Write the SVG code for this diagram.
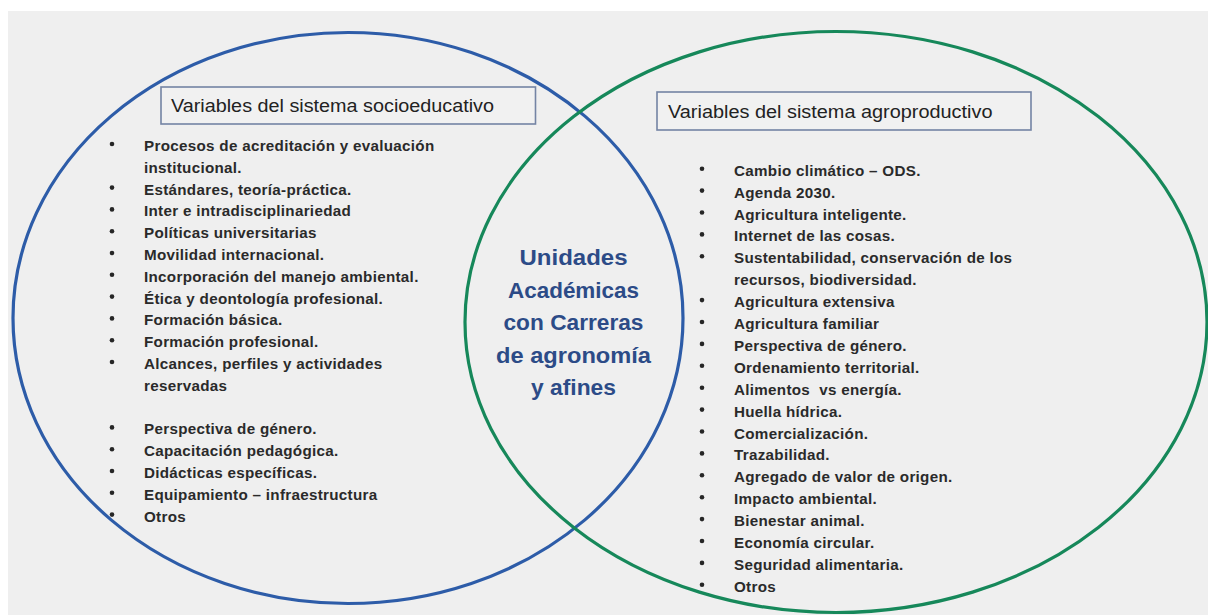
<svg xmlns="http://www.w3.org/2000/svg" width="1208" height="615" viewBox="0 0 1208 615">
<style>
.bg{fill:#efefef}
.ring{fill:none;stroke-width:3.2}
.blue{stroke:#2d5ca8}
.green{stroke:#16885a}
.box{fill:#f1f1f1;stroke:#7484a4;stroke-width:1.6}
.title{font-family:"Liberation Sans",Arial,sans-serif;font-size:17.5px;fill:#222222}
.item{font-family:"Liberation Sans",Arial,sans-serif;font-size:15.2px;font-weight:bold;fill:#2a2a2a;letter-spacing:0.3px;white-space:pre}
.bul{fill:#262626}
.center{font-family:"Liberation Sans",Arial,sans-serif;font-size:22px;font-weight:bold;fill:#2c4b87;text-anchor:middle}
</style>
<rect x="0" y="0" width="1208" height="615" fill="#ffffff"/>
<rect class="bg" x="8" y="11" width="1200" height="604"/>
<g id="connectors"></g>
<g id="socioeducativo">
<ellipse class="ring blue" cx="348" cy="318" rx="335" ry="285.5"/>
<rect class="box" x="161" y="87" width="374.5" height="37"/>
<text class="title" x="171" y="112" textLength="323" lengthAdjust="spacingAndGlyphs">Variables del sistema socioeducativo</text>
<g class="bul">
<circle cx="112" cy="144" r="2.3"/>
<circle cx="112" cy="187.6" r="2.3"/>
<circle cx="112" cy="209.4" r="2.3"/>
<circle cx="112" cy="231.2" r="2.3"/>
<circle cx="112" cy="253" r="2.3"/>
<circle cx="112" cy="274.8" r="2.3"/>
<circle cx="112" cy="296.6" r="2.3"/>
<circle cx="112" cy="318.4" r="2.3"/>
<circle cx="112" cy="340.2" r="2.3"/>
<circle cx="112" cy="362" r="2.3"/>
<circle cx="112" cy="427.4" r="2.3"/>
<circle cx="112" cy="449.2" r="2.3"/>
<circle cx="112" cy="471" r="2.3"/>
<circle cx="112" cy="492.8" r="2.3"/>
<circle cx="112" cy="514.6" r="2.3"/>
</g>
<text class="item" x="144" y="151">Procesos de acreditación y evaluación</text>
<text class="item" x="144" y="172.8">institucional.</text>
<text class="item" x="144" y="194.6">Estándares, teoría-práctica.</text>
<text class="item" x="144" y="216.4">Inter e intradisciplinariedad</text>
<text class="item" x="144" y="238.2">Políticas universitarias</text>
<text class="item" x="144" y="260">Movilidad internacional.</text>
<text class="item" x="144" y="281.8">Incorporación del manejo ambiental.</text>
<text class="item" x="144" y="303.6">Ética y deontología profesional.</text>
<text class="item" x="144" y="325.4">Formación básica.</text>
<text class="item" x="144" y="347.2">Formación profesional.</text>
<text class="item" x="144" y="369">Alcances, perfiles y actividades</text>
<text class="item" x="144" y="390.8">reservadas</text>
<text class="item" x="144" y="434.4">Perspectiva de género.</text>
<text class="item" x="144" y="456.2">Capacitación pedagógica.</text>
<text class="item" x="144" y="478">Didácticas específicas.</text>
<text class="item" x="144" y="499.8">Equipamiento – infraestructura</text>
<text class="item" x="144" y="521.6">Otros</text>
</g>
<g id="agroproductivo">
<ellipse class="ring green" cx="836" cy="322" rx="371" ry="290.5"/>
<rect class="box" x="657" y="92" width="374" height="38"/>
<text class="title" x="668" y="118" textLength="324.5" lengthAdjust="spacingAndGlyphs">Variables del sistema agroproductivo</text>
<g class="bul">
<circle cx="702" cy="168.7" r="2.3"/>
<circle cx="702" cy="190.6" r="2.3"/>
<circle cx="702" cy="212.5" r="2.3"/>
<circle cx="702" cy="234.4" r="2.3"/>
<circle cx="702" cy="256.3" r="2.3"/>
<circle cx="702" cy="300.1" r="2.3"/>
<circle cx="702" cy="322" r="2.3"/>
<circle cx="702" cy="343.9" r="2.3"/>
<circle cx="702" cy="365.8" r="2.3"/>
<circle cx="702" cy="387.7" r="2.3"/>
<circle cx="702" cy="409.6" r="2.3"/>
<circle cx="702" cy="431.5" r="2.3"/>
<circle cx="702" cy="453.4" r="2.3"/>
<circle cx="702" cy="475.3" r="2.3"/>
<circle cx="702" cy="497.2" r="2.3"/>
<circle cx="702" cy="519.1" r="2.3"/>
<circle cx="702" cy="541" r="2.3"/>
<circle cx="702" cy="562.9" r="2.3"/>
<circle cx="702" cy="584.8" r="2.3"/>
</g>
<text class="item" x="734" y="175.7">Cambio climático – ODS.</text>
<text class="item" x="734" y="197.6">Agenda 2030.</text>
<text class="item" x="734" y="219.5">Agricultura inteligente.</text>
<text class="item" x="734" y="241.4">Internet de las cosas.</text>
<text class="item" x="734" y="263.3">Sustentabilidad, conservación de los</text>
<text class="item" x="734" y="285.2">recursos, biodiversidad.</text>
<text class="item" x="734" y="307.1">Agricultura extensiva</text>
<text class="item" x="734" y="329">Agricultura familiar</text>
<text class="item" x="734" y="350.9">Perspectiva de género.</text>
<text class="item" x="734" y="372.8">Ordenamiento territorial.</text>
<text class="item" x="734" y="394.7">Alimentos  vs energía.</text>
<text class="item" x="734" y="416.6">Huella hídrica.</text>
<text class="item" x="734" y="438.5">Comercialización.</text>
<text class="item" x="734" y="460.4">Trazabilidad.</text>
<text class="item" x="734" y="482.3">Agregado de valor de origen.</text>
<text class="item" x="734" y="504.2">Impacto ambiental.</text>
<text class="item" x="734" y="526.1">Bienestar animal.</text>
<text class="item" x="734" y="548">Economía circular.</text>
<text class="item" x="734" y="569.9">Seguridad alimentaria.</text>
<text class="item" x="734" y="591.8">Otros</text>
</g>
<g id="centro">
<text class="center" x="573.5" y="265" textLength="108" lengthAdjust="spacingAndGlyphs">Unidades</text>
<text class="center" x="573.5" y="297.5" textLength="131" lengthAdjust="spacingAndGlyphs">Académicas</text>
<text class="center" x="573.5" y="330" textLength="140" lengthAdjust="spacingAndGlyphs">con Carreras</text>
<text class="center" x="573.5" y="362.5" textLength="155" lengthAdjust="spacingAndGlyphs">de agronomía</text>
<text class="center" x="573.5" y="395" textLength="85" lengthAdjust="spacingAndGlyphs">y afines</text>
</g>
</svg>
